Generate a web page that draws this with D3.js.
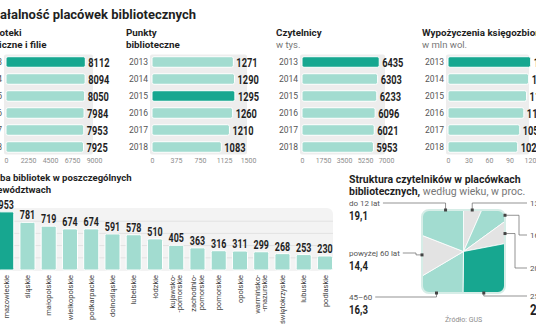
<!DOCTYPE html>
<html>
<head>
<meta charset="utf-8">
<script src="https://cdn.jsdelivr.net/npm/d3@7"></script>
<style>
	body { margin: 0; background: #fff; }
	svg { display: block; font-family: Roboto, 'Noto Sans', sans-serif; }
	.num { font-family: Roboto, sans-serif; font-weight: 700; fill: #1f1f1f; }
</style>
</head>
<body>
<svg id="chart" width="536" height="332"></svg>
<script>
const years = ['2013', '2014', '2015', '2016', '2017', '2018'];
const libraries = [8112, 8094, 8050, 7984, 7953, 7925];
const points = [1271, 1290, 1295, 1260, 1210, 1083];
const readers = [6435, 6303, 6233, 6096, 6021, 5953];
const loans = [121, 118, 115, 111, 105, 102];

const libTicks = [0, 2250, 4500, 6750, 9000];
const pointTicks = [0, 375, 750, 1125, 1500];
const readerTicks = [0, 1750, 3500, 5250, 7000];
const loanTicks = [0, 30, 60, 90, 120];

const regions = ['mazowieckie', 'śląskie', 'małopolskie', 'wielkopolskie', 'podkarpackie',
	'dolnośląskie', 'lubelskie', 'łódzkie', 'kujawsko-|-pomorskie', 'zachodnio-|pomorskie',
	'pomorskie', 'opolskie', 'warmińsko-|-mazurskie', 'świętokrzyskie', 'lubuskie', 'podlaskie'];
const regionCounts = [953, 781, 719, 674, 674, 591, 578, 510, 405, 363, 316, 311, 299, 268, 253, 230];

const ageGroups = ['13–15 lat', '16–19 lat', '20–24 lat', '25–44 lat', '45–60', 'powyżej 60 lat', 'do 12 lat'];
const ageShares = [6.6, 8.4, 7.0, 28.2, 16.3, 14.4, 19.1];

const dark = '#17a790';
const light = '#a2dcd0';
const grey = '#e3e3e3';

const svg = d3.select('#chart');

function textWidth(str, size, weight) {
	let t = svg.append('text').attr('font-size', size).attr('font-weight', weight).text(str);
	let w = t.node().getComputedTextLength();
	t.remove();
	return w;
}

// pogrubione liczby są w oryginale wąskie - ściskamy je w poziomie
function narrow(sel, k) {
	sel.each(function() {
		let w = this.getComputedTextLength();
		d3.select(this)
			.attr('textLength', (w * k).toFixed(1))
			.attr('lengthAdjust', 'spacingAndGlyphs');
	});
}

// tytuł, przycięty z lewej jak w oryginale
svg.append('text')
	.attr('x', -textWidth('Dzi', 13, 700))
	.attr('y', 19)
	.attr('font-size', 13)
	.attr('font-weight', 700)
	.attr('fill', '#1f1f1f')
	.text('Działalność placówek bibliotecznych');

// --- cztery panele z poziomymi słupkami
const panels = [
	{ title: ['Biblioteki', 'publiczne i filie'], sub: null, values: libraries, ticks: libTicks, x0: 6, w: 88, hi: 0 },
	{ title: ['Punkty', 'biblioteczne'], sub: null, values: points, ticks: pointTicks, x0: 152, w: 96, hi: 2 },
	{ title: ['Czytelnicy'], sub: 'w tys.', values: readers, ticks: readerTicks, x0: 302, w: 84, hi: 0 },
	{ title: ['Wypożyczenia księgozbioru'], sub: 'w mln wol.', values: loans, ticks: loanTicks, x0: 448, w: 82, hi: 0 }
];

const y = d3.scaleBand()
	.domain(years)
	.range([53.5, 155.5])
	.paddingInner(0.38)
	.paddingOuter(0.19);

panels.forEach(function(p) {
	let g = svg.append('g');
	let x = d3.scaleLinear()
		.domain([0, p.ticks[p.ticks.length - 1]])
		.range([p.x0, p.x0 + p.w]);

	let tx = p.x0 - 26;
	p.title.forEach(function(line, i) {
		g.append('text')
			.attr('x', tx)
			.attr('y', 36 + i * 12)
			.attr('font-size', 9.8)
			.attr('font-weight', 700)
			.attr('fill', '#1f1f1f')
			.text(line);
	});
	if (p.sub) {
		g.append('text')
			.attr('x', tx)
			.attr('y', 48)
			.attr('font-size', 9.5)
			.attr('fill', '#777')
			.text(p.sub);
	}

	// szare tło pod słupkami
	g.append('rect')
		.attr('x', p.x0 - 2)
		.attr('y', y.range()[0] + 1)
		.attr('width', p.w + 1)
		.attr('height', y.range()[1] - y.range()[0] - 2)
		.attr('rx', 2)
		.attr('fill', '#ededed');

	g.selectAll('.bar')
		.data(p.values)
		.enter()
		.append('rect')
		.attr('x', p.x0)
		.attr('y', (d, i) => y(years[i]))
		.attr('width', d => x(d) - p.x0)
		.attr('height', y.bandwidth())
		.attr('rx', 2)
		.attr('fill', (d, i) => (i === p.hi ? dark : light))
		.attr('stroke', '#fff')
		.attr('stroke-width', 1);

	g.selectAll('.year')
		.data(years)
		.enter()
		.append('text')
		.attr('x', p.x0 - 4)
		.attr('y', d => y(d) + y.bandwidth() / 2 + 3)
		.attr('text-anchor', 'end')
		.attr('font-size', 8.5)
		.attr('fill', '#555')
		.text(d => d);

	g.selectAll('.val')
		.data(p.values)
		.enter()
		.append('text')
		.attr('class', 'num')
		.attr('x', d => x(d) + 3)
		.attr('y', (d, i) => y(years[i]) + y.bandwidth() / 2 + 4.5)
		.attr('font-size', 12.5)
		.text(d => d)
		.call(narrow, 0.74);

	let axis = d3.axisBottom(x).tickValues(p.ticks).tickFormat(d3.format('d')).tickSize(0).tickPadding(0);
	let ag = g.append('g').attr('transform', 'translate(0,161)').call(axis);
	ag.select('.domain').remove();
	ag.selectAll('text')
		.attr('font-size', 7)
		.attr('font-family', 'Roboto, sans-serif')
		.attr('fill', '#8c8c8c')
		.attr('dy', '0.32em')
		.attr('y', 0);
});

// --- liczba bibliotek w województwach
const bx = d3.scaleBand()
	.domain(regions)
	.range([-4.4, 335.6])
	.paddingInner(0.29)
	.paddingOuter(0.145);
const by = d3.scaleLinear().domain([0, 1000]).range([270, 209]);

let lt = -textWidth('Licz', 9.6, 700);
['Liczba bibliotek w poszczególnych', 'województwach'].forEach(function(line, i) {
	svg.append('text')
		.attr('x', lt)
		.attr('y', 181 + i * 12)
		.attr('font-size', 9.6)
		.attr('font-weight', 700)
		.attr('fill', '#1f1f1f')
		.text(line);
});

let bg = svg.append('g');
bg.append('rect')
	.attr('x', -10)
	.attr('y', by(1000) - 1)
	.attr('width', 343)
	.attr('height', by(0) - by(1000) + 2)
	.attr('rx', 6)
	.attr('fill', '#f3f3f3');
bg.selectAll('.grid')
	.data([200, 400, 600, 800])
	.enter()
	.append('line')
	.attr('x1', -10)
	.attr('x2', 333)
	.attr('y1', d => by(d))
	.attr('y2', d => by(d))
	.attr('stroke', '#e2e2e2')
	.attr('stroke-width', 1);

bg.selectAll('.vbar')
	.data(regionCounts)
	.enter()
	.append('rect')
	.attr('x', (d, i) => bx(regions[i]))
	.attr('y', d => by(d))
	.attr('width', bx.bandwidth())
	.attr('height', d => by(0) - by(d))
	.attr('rx', 1.5)
	.attr('fill', (d, i) => (i === 0 ? dark : light))
	.attr('stroke', '#fff')
	.attr('stroke-width', 1);

bg.selectAll('.vval')
	.data(regionCounts)
	.enter()
	.append('text')
	.attr('class', 'num')
	.attr('x', (d, i) => bx(regions[i]) + bx.bandwidth() / 2)
	.attr('y', d => by(d) - 3)
	.attr('text-anchor', 'middle')
	.attr('font-size', 12)
	.text(d => d)
	.call(narrow, 0.74);

let cat = bg.selectAll('.cat')
	.data(regions)
	.enter()
	.append('text')
	.attr('transform', d => `translate(${bx(d) + bx.bandwidth() / 2},275) rotate(-90)`)
	.attr('text-anchor', 'end')
	.attr('font-size', 7.5)
	.attr('fill', '#444');
cat.each(function(d) {
	let parts = d.split('|');
	let el = d3.select(this);
	parts.forEach(function(p, i) {
		el.append('tspan')
			.attr('x', 0)
			.attr('y', parts.length === 1 ? 2.7 : -1.3 + i * 7.5)
			.text(p);
	});
});

// --- struktura wieku czytelników
const half = 41.5;
const cx = 463.5;
const cy = 251.5;

[['Struktura czytelników w placówkach', null], ['bibliotecznych,', ' według wieku, w proc.']].forEach(function(l, i) {
	let t = svg.append('text')
		.attr('x', 349)
		.attr('y', 183 + i * 12)
		.attr('font-size', 10.5)
		.attr('fill', '#1f1f1f');
	t.append('tspan').attr('font-weight', 700).text(l[0]);
	if (l[1]) t.append('tspan').attr('fill', '#777').text(l[1]);
});

const pieColors = [grey, light, grey, dark, light, grey, light];
const pie = d3.pie().sort(null).value(d => d);
const arcs = pie(ageShares);
const arc = d3.arc().innerRadius(0).outerRadius(80);

svg.append('clipPath')
	.attr('id', 'sq')
	.append('rect')
	.attr('x', cx - half)
	.attr('y', cy - half)
	.attr('width', half * 2)
	.attr('height', half * 2)
	.attr('rx', 7);

let pg = svg.append('g').attr('clip-path', 'url(#sq)');
pg.selectAll('path')
	.data(arcs)
	.enter()
	.append('path')
	.attr('transform', `translate(${cx},${cy})`)
	.attr('d', arc)
	.attr('fill', (d, i) => pieColors[i])
	.attr('stroke', '#fff')
	.attr('stroke-width', 0.8);

svg.append('rect')
	.attr('x', cx - half)
	.attr('y', cy - half)
	.attr('width', half * 2)
	.attr('height', half * 2)
	.attr('rx', 7)
	.attr('fill', 'none')
	.attr('stroke', '#d6ede7')
	.attr('stroke-width', 2);

// rozmieszczenie podpisów: strona, linia nazwy, przesunięcie kotwicy (stopnie)
const ageLayout = [
	{ side: 'r', ty: 206, shift: 0 },
	{ side: 'r', ty: 238, shift: 10 },
	{ side: 'r', ty: 271, shift: 0 },
	{ side: 'r', ty: 299, shift: 24, big: true },
	{ side: 'l', ty: 300, shift: 3 },
	{ side: 'l', ty: 256, shift: 0 },
	{ side: 'l', ty: 206, shift: 11 }
];

arcs.forEach(function(a, i) {
	let L = ageLayout[i];
	let ang = (a.startAngle + a.endAngle) / 2 + (L.shift * Math.PI) / 180;
	let dx = Math.sin(ang);
	let dy = -Math.cos(ang);
	let t = half / Math.max(Math.abs(dx), Math.abs(dy));
	let px = cx + dx * t;
	let py = cy + dy * t;
	let onSide = Math.abs(dx) >= Math.abs(dy);
	let ly = L.ty - 3;
	let tx = L.side === 'l' ? 349 : 530;

	let name = svg.append('text')
		.attr('x', tx)
		.attr('y', L.ty)
		.attr('font-size', 8)
		.attr('fill', '#555')
		.text(ageGroups[i]);
	let nameEnd = tx + name.node().getComputedTextLength() + 3;

	let pts;
	if (L.side === 'l') {
		if (onSide) {
			let ex = px - 6;
			pts = [[nameEnd, ly], [ex, ly], [ex, py], [px, py]];
		} else {
			pts = [[nameEnd, ly], [px, ly], [px, py]];
		}
	} else {
		if (onSide) {
			let ex = px + (i === 1 ? 14 : 10);
			pts = [[tx - 3, ly], [ex, ly], [ex, py], [px, py]];
		} else {
			pts = [[tx - 3, ly], [px, ly], [px, py]];
		}
	}
	svg.append('path')
		.attr('d', d3.line()(pts))
		.attr('fill', 'none')
		.attr('stroke', '#666')
		.attr('stroke-width', 0.7);
	svg.append('rect')
		.attr('x', px - 1.5)
		.attr('y', py - 1.5)
		.attr('width', 3)
		.attr('height', 3)
		.attr('fill', '#444');

	// po prawej stronie wartości małych grup stoją za nazwą (poza kadrem)
	let inline = L.side === 'r' && !L.big;
	svg.append('text')
		.attr('class', 'num')
		.attr('x', inline ? nameEnd + 2 : tx)
		.attr('y', inline ? L.ty : L.ty + (L.big ? 16 : 13.5))
		.attr('font-size', L.big ? 14.5 : 12)
		.text(d3.format('.1f')(ageShares[i]).replace('.', ','))
		.call(narrow, 0.8);
});

svg.append('text')
	.attr('x', cx)
	.attr('y', 322)
	.attr('text-anchor', 'middle')
	.attr('font-size', 7)
	.attr('fill', '#8c8c8c')
	.text('Źródło: GUS');
</script>
</body>
</html>
